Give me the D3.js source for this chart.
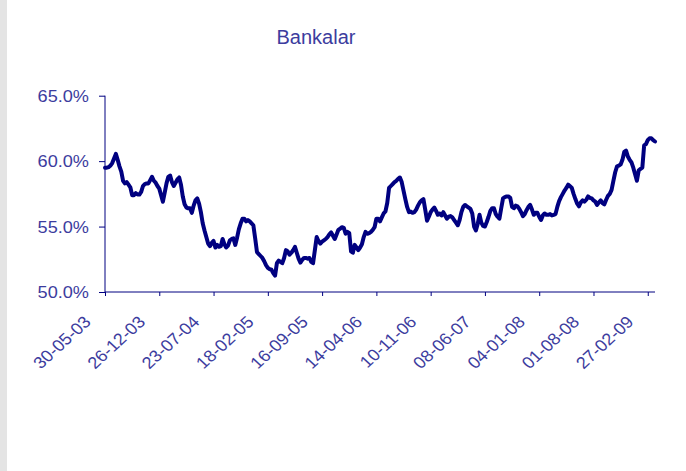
<!DOCTYPE html>
<html>
<head>
<meta charset="utf-8">
<script src="https://cdn.jsdelivr.net/npm/d3@7"></script>
<style>
  html, body { margin: 0; padding: 0; background: #fff; }
  #chart { width: 686px; height: 471px; }
  text { font-family: "Liberation Sans", Arial, sans-serif; }
</style>
</head>
<body>
<div id="chart"></div>
<script>
// --- DATA (weekly) ---
const tickLabels = ['30-05-03', '26-12-03', '23-07-04', '18-02-05', '16-09-05', '14-04-06',
                    '10-11-06', '08-06-07', '04-01-08', '01-08-08', '27-02-09'];
const tickEvery = 30;   // one label every 30 weeks

const yTicks = [50, 55, 60, 65];

const bankalar = [
  59.5, 59.5, 59.55, 59.65, 59.85, 60.2, 60.55, 60.1, 59.6, 59.2,
  58.5, 58.3, 58.4, 58.2, 58.0, 57.4, 57.4, 57.55, 57.45, 57.45,
  57.65, 58.1, 58.25, 58.3, 58.3, 58.55, 58.8, 58.5, 58.35, 58.1,
  57.9, 57.4, 56.9, 57.6, 58.3, 58.8, 58.9, 58.4, 58.1, 58.35,
  58.6, 58.75, 58.2, 57.3, 56.7, 56.45, 56.4, 56.4, 56.05, 56.6,
  57.0, 57.15, 56.75, 56.1, 55.25, 54.7, 54.2, 53.7, 53.5, 53.75,
  53.9, 53.4, 53.6, 53.45, 53.5, 54.05, 53.65, 53.4, 53.55, 53.95,
  54.05, 54.1, 53.6, 54.15, 54.8, 55.25, 55.6, 55.6, 55.4, 55.5,
  55.4, 55.25, 55.1, 54.1, 53.05, 52.9, 52.75, 52.6, 52.35, 52.05,
  51.85, 51.75, 51.7, 51.45, 51.25, 52.2, 52.4, 52.3, 52.2, 52.6,
  53.2, 53.1, 52.85, 53.0, 53.2, 53.45, 53.0, 52.55, 52.25, 52.45,
  52.6, 52.6, 52.55, 52.6, 52.3, 52.2, 53.2, 54.2, 53.9, 53.7,
  53.85, 53.95, 54.05, 54.2, 54.4, 54.55, 54.3, 54.05, 54.4, 54.75,
  54.85, 54.95, 54.9, 54.45, 54.6, 54.5, 53.1, 53.0, 53.6, 53.4,
  53.2, 53.4, 53.65, 54.2, 54.6, 54.45, 54.5, 54.6, 54.75, 54.95,
  55.6, 55.6, 55.4, 55.7, 56.0, 56.15, 56.8, 57.95, 58.1, 58.25,
  58.4, 58.5, 58.65, 58.75, 58.4, 57.75, 57.1, 56.5, 56.1, 56.15,
  56.05, 56.1, 56.3, 56.6, 56.85, 57.0, 57.1, 56.3, 55.45, 55.75,
  56.1, 56.3, 56.45, 56.2, 55.9, 56.0, 55.85, 56.1, 55.85, 55.6,
  55.75, 55.8, 55.7, 55.5, 55.3, 55.1, 55.5, 56.1, 56.5, 56.65,
  56.55, 56.45, 56.35, 56.0, 55.0, 54.7, 55.2, 55.9, 55.3, 55.05,
  55.0, 55.35, 55.75, 56.2, 56.4, 56.4, 55.95, 55.75, 55.6, 56.4,
  57.15, 57.25, 57.3, 57.3, 57.2, 56.5, 56.4, 56.6, 56.55, 56.35,
  56.1, 55.8, 55.95, 56.25, 56.5, 56.65, 56.3, 55.9, 56.05, 56.05,
  55.75, 55.5, 55.85, 56.0, 55.9, 55.9, 55.95, 55.85, 55.9, 55.95,
  56.5, 56.95, 57.25, 57.5, 57.75, 57.95, 58.2, 58.1, 57.95, 57.5,
  57.1, 56.75, 56.55, 56.85, 57.0, 56.9, 57.05, 57.3, 57.2, 57.15,
  57.0, 56.9, 56.65, 56.85, 57.0, 56.8, 56.7, 57.05, 57.35, 57.5,
  57.8, 58.5, 59.15, 59.6, 59.65, 59.75, 60.1, 60.7, 60.8, 60.35,
  60.1, 59.9, 59.5, 59.0, 58.5, 59.3, 59.4, 59.5, 61.2, 61.3,
  61.6, 61.75, 61.75, 61.6, 61.5
];

// --- SETUP ---
const width = 686, height = 471;
const textColor = '#3c3c9e';
const axisColor = '#000080';
const stretch = 1.1;   // labels in the picture look widened

const svg = d3.select('#chart')
  .append('svg')
  .attr('width', width)
  .attr('height', height);

// grey strip at the left edge
svg.append('rect')
  .attr('x', 0).attr('y', 0)
  .attr('width', 7).attr('height', height)
  .attr('fill', '#e4e4e4');

const x = d3.scaleLinear()
  .domain([0, bankalar.length - 1])
  .range([105, 655]);

const y = d3.scaleLinear()
  .domain([50, 65])
  .range([292, 95.7]);

// --- TITLE ---
svg.append('text')
  .attr('x', 316)
  .attr('y', 44)
  .attr('text-anchor', 'middle')
  .attr('fill', textColor)
  .style('font-size', '20px')
  .text('Bankalar');

// --- Y AXIS ---
const yAxis = svg.append('g')
  .attr('transform', 'translate(105,0)')
  .call(d3.axisLeft(y).tickValues(yTicks).tickSize(6).tickFormat(''));
yAxis.select('.domain').attr('stroke', axisColor).attr('d', `M0,${y(50)}V${y(65)}`);
yAxis.selectAll('.tick line').attr('stroke', axisColor);

svg.append('g').selectAll('text')
  .data(yTicks)
  .enter().append('text')
    .attr('transform', d => `translate(89,${y(d)}) scale(${stretch},1)`)
    .attr('text-anchor', 'end')
    .attr('dy', '0.36em')
    .attr('fill', textColor)
    .style('font-size', '16.5px')
    .text(d => d.toFixed(1) + '%');

// --- X AXIS ---
const xTickIdx = tickLabels.map((_, i) => i * tickEvery);

const xAxis = svg.append('g')
  .attr('transform', `translate(0,${y(50)})`)
  .call(d3.axisBottom(x).tickValues(xTickIdx).tickSize(4).tickFormat(''));
xAxis.select('.domain').attr('stroke', axisColor).attr('d', `M105,0H655`);
xAxis.selectAll('.tick line').attr('stroke', axisColor);

svg.append('g').selectAll('text')
  .data(tickLabels)
  .enter().append('text')
    .attr('transform', (d, i) => `translate(${x(xTickIdx[i]) - 13},${y(50) + 31}) scale(${stretch},1) rotate(-45)`)
    .attr('text-anchor', 'end')
    .attr('fill', textColor)
    .style('font-size', '16.5px')
    .text(d => d);

// --- LINE ---
const line = d3.line()
  .x((d, i) => x(i))
  .y(d => y(d));

svg.append('path')
  .datum(bankalar)
  .attr('fill', 'none')
  .attr('stroke', '#000080')
  .attr('stroke-width', 4)
  .attr('stroke-linejoin', 'round')
  .attr('stroke-linecap', 'round')
  .attr('d', line);
</script>
</body>
</html>
